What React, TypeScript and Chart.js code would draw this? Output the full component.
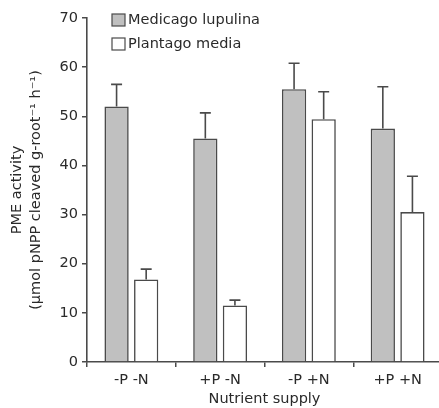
import React, { useEffect, useRef } from "react";
import { Chart, registerables } from "chart.js";

Chart.register(...registerables);

const categories = ["-P -N", "+P -N", "-P +N", "+P +N"];
const seriesNames = ["Medicago lupulina", "Plantago media"];
const medicago = [52, 45.5, 55.5, 47.5];
const medicagoErr = [4.5, 5.2, 5.3, 8.5];
const plantago = [16.8, 11.5, 49.4, 30.5];
const plantagoErr = [2.1, 1.1, 5.6, 7.3];
const yMin = 0;
const yMax = 70;
const yStep = 10;

const FONT = "'DejaVu Sans', Verdana, sans-serif";
const TEXT = "#2a2a2a";
const LINE = "#4a4a4a";
const fills = ["#c0c0c0", "#ffffff"];
const errors = [medicagoErr, plantagoErr];

const errorBarPlugin = {
  id: "errorBars",
  afterDatasetsDraw(chart: any) {
    const ctx = chart.ctx;
    const yScale = chart.scales.y;
    chart.data.datasets.forEach((ds: any, i: number) => {
      const meta = chart.getDatasetMeta(i);
      meta.data.forEach((bar: any, j: number) => {
        const v = ds.data[j];
        const e = errors[i][j];
        const yTop = yScale.getPixelForValue(v + e);
        ctx.save();
        ctx.strokeStyle = LINE;
        ctx.lineWidth = 1.6;
        ctx.beginPath();
        ctx.moveTo(bar.x, bar.y);
        ctx.lineTo(bar.x, yTop);
        ctx.moveTo(bar.x - 5.5, yTop);
        ctx.lineTo(bar.x + 5.5, yTop);
        ctx.stroke();
        ctx.restore();
      });
    });
  },
};

const legendPlugin = {
  id: "customLegend",
  afterDraw(chart: any) {
    const ctx = chart.ctx;
    const left = chart.chartArea.left + 25;
    const top = chart.chartArea.top - 4;
    ctx.save();
    chart.data.datasets.forEach((ds: any, i: number) => {
      const y = top + i * 24;
      ctx.fillStyle = ds.backgroundColor;
      ctx.fillRect(left, y, 13, 12);
      ctx.strokeStyle = LINE;
      ctx.lineWidth = 1.2;
      ctx.strokeRect(left, y, 13, 12);
      ctx.fillStyle = TEXT;
      ctx.font = `14.5px ${FONT}`;
      ctx.textBaseline = "middle";
      ctx.textAlign = "left";
      ctx.fillText(ds.label, left + 16, y + 6.5);
    });
    ctx.restore();
  },
};

export default function App() {
  const ref = useRef<HTMLCanvasElement | null>(null);
  useEffect(() => {
    document.body.style.margin = "0";
    if (!ref.current) return;
    const chart = new Chart(ref.current, {
      type: "bar",
      data: {
        labels: categories,
        datasets: [
          {
            label: seriesNames[0],
            data: medicago,
            backgroundColor: fills[0],
            borderColor: LINE,
            borderWidth: 1.6,
            categoryPercentage: 0.667,
            barPercentage: 0.82,
          },
          {
            label: seriesNames[1],
            data: plantago,
            backgroundColor: fills[1],
            borderColor: LINE,
            borderWidth: 1.6,
            categoryPercentage: 0.667,
            barPercentage: 0.82,
          },
        ],
      },
      options: {
        animation: false,
        responsive: false,
        maintainAspectRatio: false,
        layout: { padding: { top: 18, right: 0, bottom: 0, left: 0 } },
        plugins: {
          legend: { display: false },
          tooltip: { enabled: false },
        },
        scales: {
          x: {
            grid: {
              offset: true,
              drawOnChartArea: false,
              drawTicks: true,
              tickLength: 5,
              color: LINE,
              lineWidth: 1.5,
            },
            border: { color: LINE, width: 1.6 },
            ticks: {
              color: TEXT,
              font: { family: FONT, size: 14.5 },
              padding: 5,
              maxRotation: 0,
            },
            title: {
              display: true,
              text: "Nutrient supply",
              color: TEXT,
              font: { family: FONT, size: 14.5 },
              padding: { top: 0, bottom: 0 },
            },
            afterFit: (s: any) => {
              s.height = 46;
            },
          },
          y: {
            min: yMin,
            max: yMax,
            ticks: {
              stepSize: yStep,
              color: TEXT,
              font: { family: FONT, size: 14.5 },
              padding: 4,
            },
            grid: {
              drawOnChartArea: false,
              drawTicks: true,
              tickLength: 5,
              color: LINE,
              lineWidth: 1.5,
            },
            border: { color: LINE, width: 1.6 },
            title: {
              display: true,
              text: ["PME activity", "(µmol pNPP cleaved g-root⁻¹ h⁻¹)"],
              color: TEXT,
              font: { family: FONT, size: 14.5, lineHeight: 1.3 },
              padding: { top: 8, bottom: 0 },
            },
            afterFit: (s: any) => {
              s.width = 87;
            },
          },
        },
      },
      plugins: [errorBarPlugin, legendPlugin],
    });
    return () => chart.destroy();
  }, []);
  return (
    <div style={{ position: "relative", width: 439, height: 408, overflow: "hidden" }}>
      <canvas ref={ref} width={442} height={408} style={{ width: 442, height: 408, display: "block" }} />
    </div>
  );
}
